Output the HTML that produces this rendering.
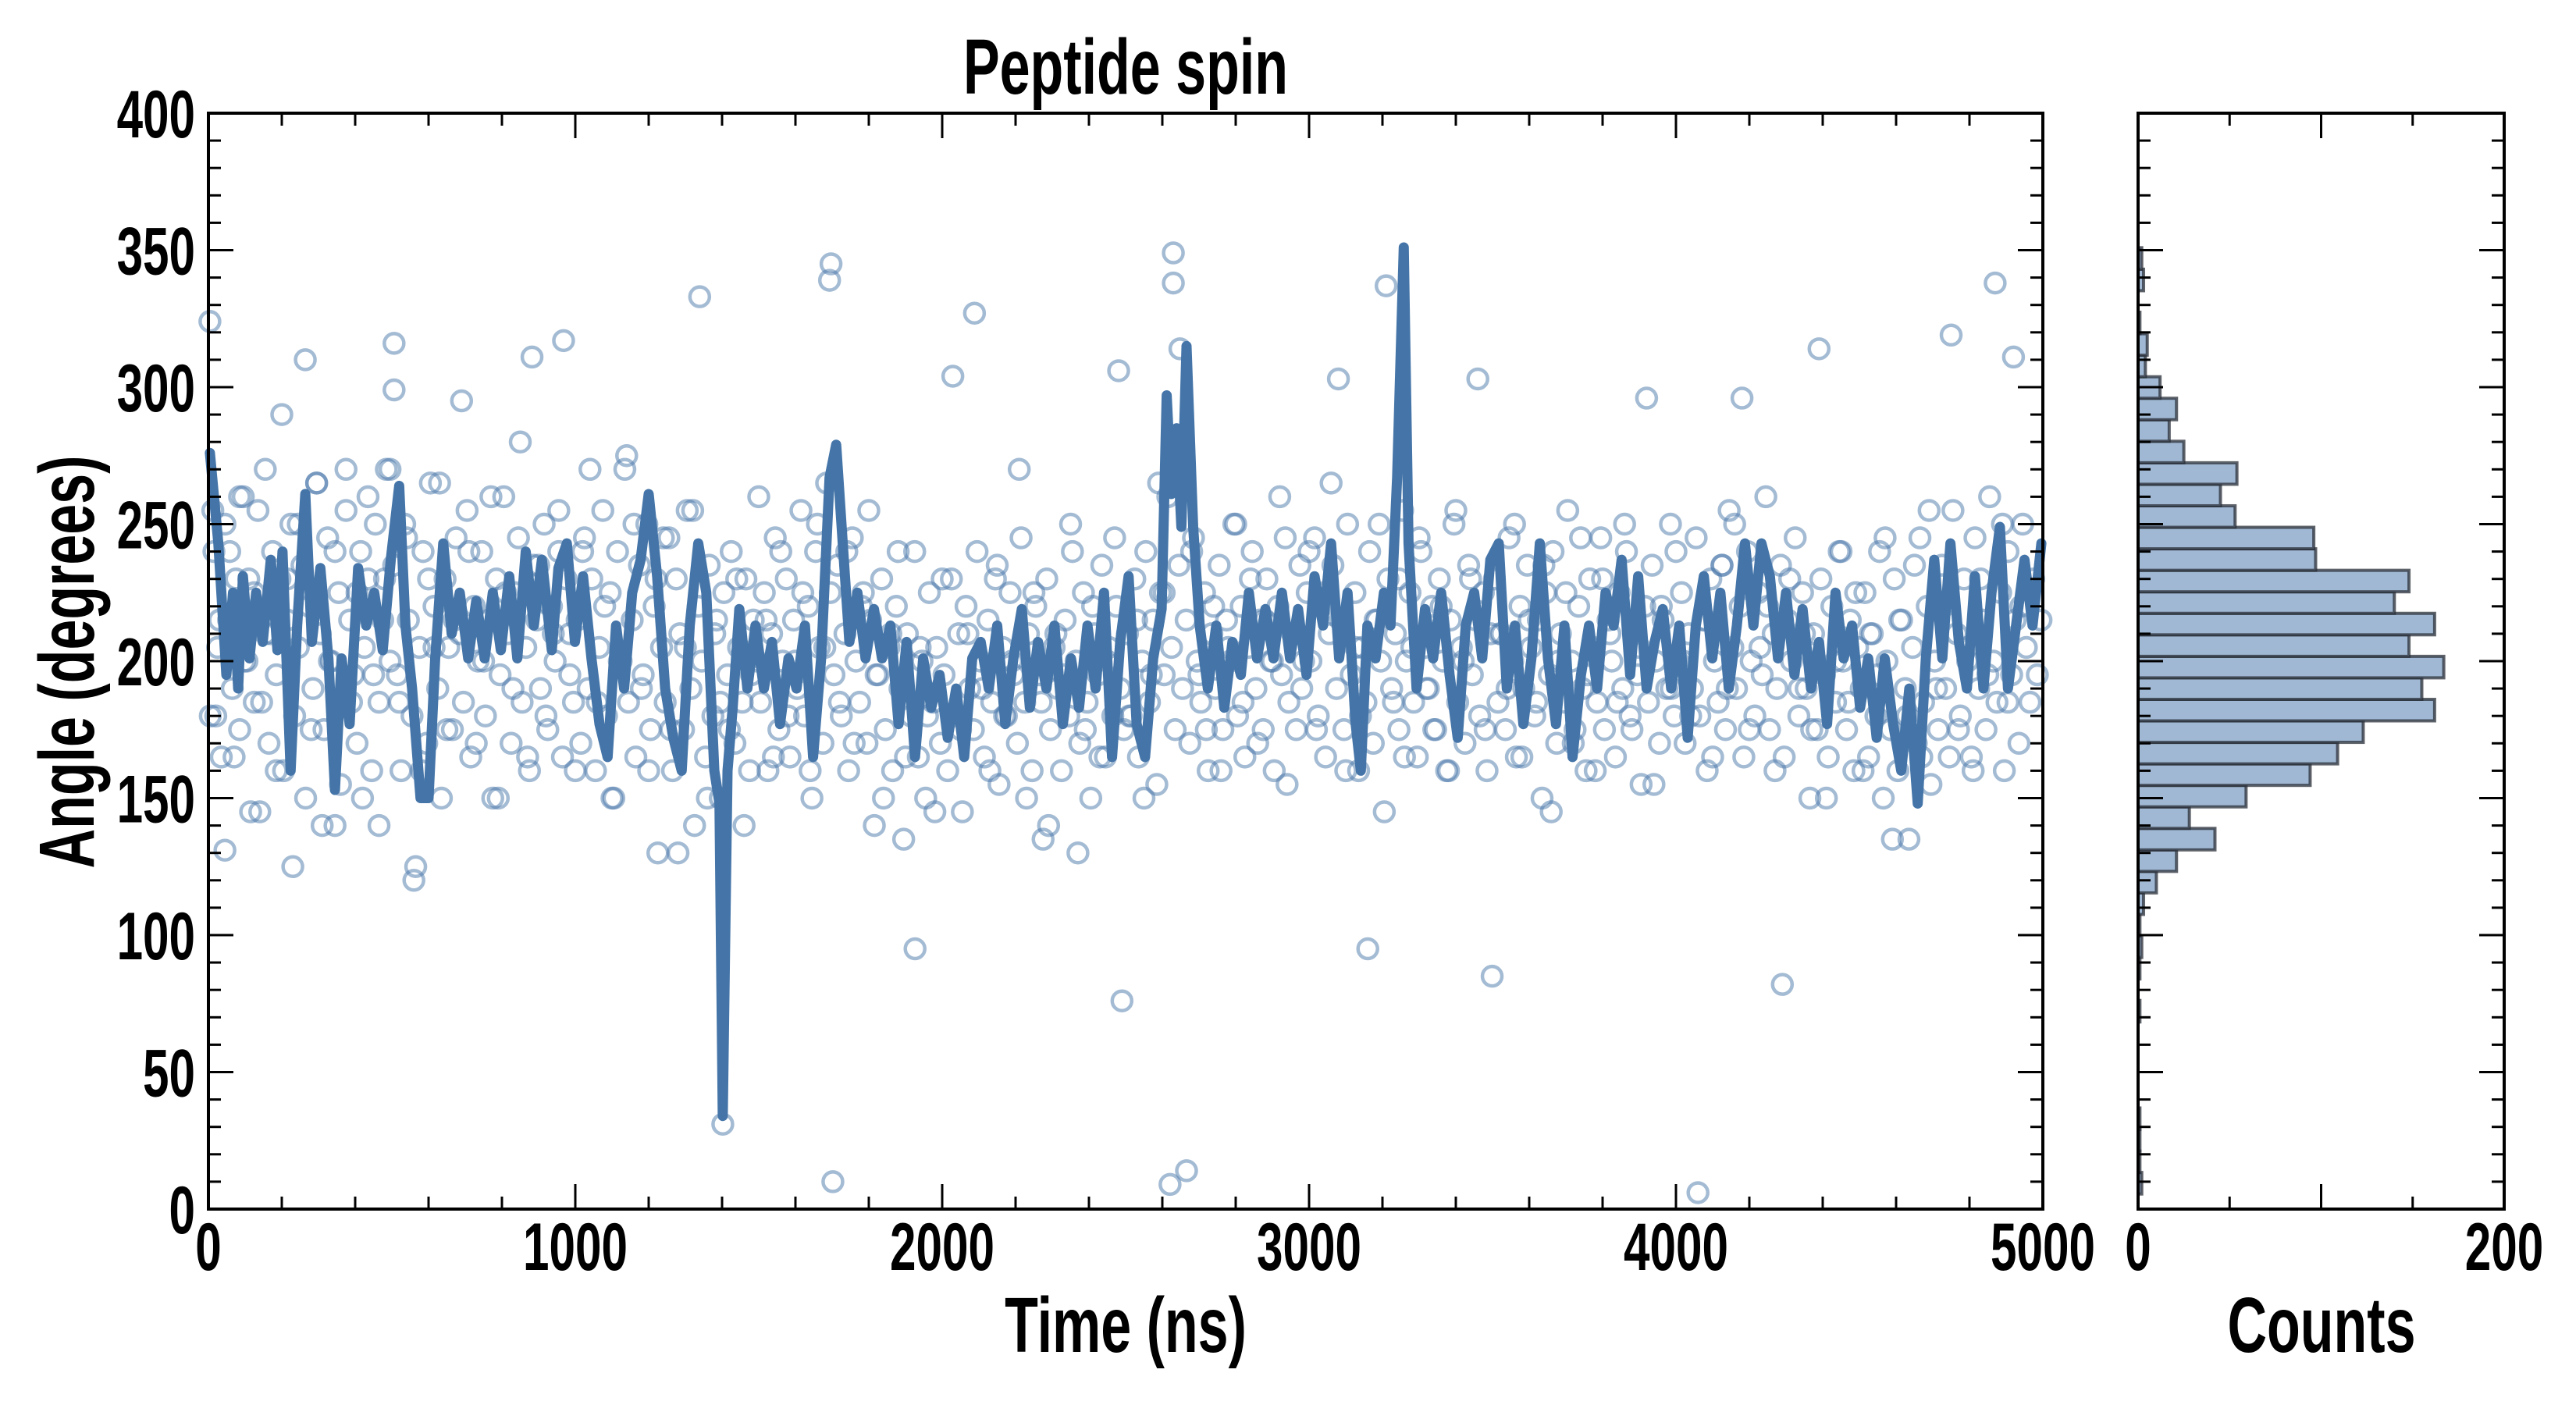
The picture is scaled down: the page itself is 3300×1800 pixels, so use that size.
<!DOCTYPE html>
<html><head><meta charset="utf-8"><style>
html,body{margin:0;padding:0;background:#fff;}
svg{display:block;}
text{font-family:"Liberation Sans Narrow","Liberation Sans",sans-serif;font-weight:bold;fill:#000;}
</style></head><body>
<svg id="chart" width="3300" height="1800" viewBox="0 0 3300 1800" xmlns="http://www.w3.org/2000/svg">
<g id="scatterLayer"></g>
<g id="lineLayer"></g>
<g id="histLayer"></g>
<g id="axesLayer"></g>
</svg>
<script>
// ---- data ----
const lineTimes=[4,27,49,67,81,94,112,130,148,170,188,202,224,242,264,282,305,327,345,363,385,408,430,452,475,497,520,537,555,578,600,618,640,663,685,708,730,753,775,797,820,842,865,887,909,936,954,977,999,1021,1044,1066,1088,1111,1133,1155,1178,1200,1223,1245,1267,1290,1312,1335,1357,1379,1393,1402,1415,1429,1447,1469,1491,1514,1536,1558,1581,1603,1626,1648,1670,1693,1711,1729,1747,1769,1791,1814,1836,1859,1881,1903,1926,1948,1970,1993,2015,2038,2060,2082,2105,2127,2150,2172,2194,2217,2239,2261,2284,2306,2329,2351,2373,2396,2418,2441,2463,2485,2508,2530,2553,2575,2598,2612,2625,2639,2652,2666,2684,2702,2724,2747,2769,2791,2814,2836,2858,2881,2903,2926,2948,2970,2993,3015,3038,3060,3082,3105,3127,3141,3159,3181,3204,3222,3240,3258,3271,3293,3316,3338,3360,3383,3405,3427,3450,3472,3494,3517,3539,3561,3584,3606,3629,3651,3673,3696,3718,3741,3763,3785,3808,3830,3852,3875,3897,3920,3942,3964,3987,4009,4032,4054,4076,4099,4121,4144,4166,4188,4211,4233,4256,4278,4300,4323,4345,4368,4390,4412,4435,4457,4480,4502,4524,4547,4569,4592,4614,4636,4659,4681,4704,4726,4748,4771,4793,4815,4838,4860,4883,4905,4927,4950,4972,4996];
const lineAngles=[276,243,195,225,190,231,201,225,207,237,204,240,160,213,261,207,234,201,153,201,177,234,213,225,204,237,264,213,190,150,150,201,243,210,225,201,222,201,225,204,231,201,240,213,237,204,234,243,207,231,201,177,165,213,190,225,237,261,231,190,172,160,213,243,225,160,148,34,160,183,219,190,213,190,207,177,201,190,213,165,201,267,279,243,207,225,201,219,201,213,177,207,165,201,183,195,172,190,165,201,207,190,213,177,201,219,183,207,190,213,177,201,183,213,190,225,165,207,231,177,165,201,219,297,261,285,249,315,249,213,190,213,183,207,195,225,201,219,201,225,201,219,195,231,213,243,201,225,177,160,213,201,225,213,267,351,243,190,219,201,225,195,172,213,225,201,237,243,190,213,177,201,243,201,177,213,165,195,213,190,225,213,237,195,231,190,207,219,190,213,172,213,231,201,225,190,213,243,213,243,231,201,225,195,219,190,207,177,225,201,213,183,201,172,201,177,160,190,148,201,237,201,243,207,190,231,190,225,249,190,213,237,213,243];
const pointTimes=[4,12,20,30,45,58,70,85,98,110,125,140,155,170,185,200,215,230,245,264,280,295,310,330,345,360,375,390,405,420,435,450,465,480,495,506,506,520,540,560,580,600,615,630,650,670,690,710,730,750,770,790,810,830,850,870,882,900,920,940,955,968,985,1000,1020,1040,1060,1080,1100,1120,1140,1160,1180,1200,1220,1240,1260,1280,1300,1320,1339,1360,1380,1395,1402,1420,1440,1460,1480,1500,1520,1540,1560,1580,1600,1620,1640,1660,1680,1693,1697,1702,1720,1740,1760,1780,1800,1820,1840,1860,1880,1900,1926,1940,1960,1980,2000,2029,2050,2070,2088,2110,2130,2150,2170,2190,2210,2230,2250,2270,2290,2310,2330,2350,2370,2390,2410,2430,2450,2470,2481,2490,2510,2530,2550,2570,2590,2605,2621,2630,2630,2648,2666,2680,2700,2720,2740,2760,2780,2800,2820,2840,2860,2880,2900,2920,2940,2960,2980,3000,3020,3040,3060,3080,3100,3127,3140,3160,3180,3191,3210,3230,3245,3260,3280,3300,3320,3340,3360,3380,3400,3420,3440,3460,3480,3499,3520,3540,3560,3580,3600,3620,3640,3660,3680,3700,3720,3740,3760,3780,3800,3820,3840,3860,3880,3900,3920,3940,3960,3987,4000,4020,4040,4060,4080,4100,4126,4140,4160,4180,4200,4229,4250,4270,4290,4310,4336,4350,4370,4390,4410,4435,4450,4470,4490,4510,4530,4550,4570,4590,4610,4630,4650,4670,4690,4710,4730,4750,4770,4793,4810,4830,4850,4870,4890,4905,4920,4940,4968,4985];
const pointAngles=[324,255,180,215,131,240,165,260,200,230,185,145,270,210,160,290,230,125,250,310,175,265,140,200,240,155,270,185,225,150,260,195,140,230,270,316,299,185,245,120,160,230,205,265,175,215,295,240,170,200,260,150,225,190,280,165,311,235,180,210,255,317,195,160,240,270,185,220,150,200,275,250,190,160,230,245,175,130,205,255,333,150,210,185,31,175,230,140,195,260,215,165,240,180,200,225,160,250,205,339,345,10,185,240,170,220,255,195,150,210,240,165,95,205,180,145,230,304,175,210,327,190,160,235,180,200,270,150,225,185,140,210,195,250,130,175,220,165,200,245,306,76,180,215,150,195,265,225,9,349,338,314,14,240,195,175,220,160,205,250,185,230,170,215,200,260,155,210,190,240,175,225,265,303,160,205,180,95,215,250,337,185,230,165,205,245,190,175,220,160,255,200,230,303,175,85,210,190,250,165,215,185,235,145,200,225,170,245,195,160,230,210,185,250,175,205,296,155,220,190,240,200,180,6,215,165,235,190,250,296,175,205,220,160,82,230,190,210,175,314,150,200,240,185,225,160,210,195,245,135,215,180,235,165,255,190,220,319,175,205,160,230,195,338,250,185,311,220];
// dense samples, one every 10 ns starting at 5 ns
const denseStart=5, denseStep=10;
const denseAngles=[180,240,205,165,250,215,190,230,175,260,200,145,225,255,185,210,170,240,195,230,160,215,250,180,205,235,150,220,190,265,210,175,245,200,140,225,185,255,215,195,170,240,205,230,160,250,185,215,270,200,
235,195,160,250,215,180,125,205,240,170,265,220,190,150,230,205,175,245,210,185,255,165,220,200,240,180,215,150,230,195,260,210,170,225,245,185,205,160,235,215,190,250,175,220,200,240,165,230,210,185,
215,170,245,190,230,160,205,255,180,225,150,240,200,270,185,215,165,235,195,250,175,220,130,205,185,245,160,230,210,175,255,190,140,220,200,165,235,180,215,150,225,195,240,170,205,185,230,160,215,200,
185,225,160,210,245,175,200,230,165,215,190,255,180,220,150,240,205,170,265,225,195,235,180,210,160,245,200,185,225,170,215,140,195,230,175,205,160,220,190,135,210,180,240,165,200,150,225,185,205,170,
195,160,230,180,210,145,220,190,175,240,200,165,215,185,230,155,205,180,225,195,170,245,185,210,160,220,195,135,230,175,205,190,160,215,180,240,200,170,225,185,150,210,195,235,165,205,180,220,190,175,
210,180,230,165,200,240,185,215,155,225,195,260,205,175,235,190,215,170,245,200,185,225,160,210,190,235,175,215,200,250,180,220,165,205,240,190,215,175,230,200,160,220,195,245,185,210,175,235,200,225,
200,245,180,220,165,210,235,190,215,175,250,195,225,160,205,185,240,170,215,200,145,230,190,210,175,255,200,225,185,165,240,205,190,220,175,230,200,160,215,250,185,205,170,235,195,215,180,225,160,210,
230,185,210,175,245,200,165,220,190,235,205,180,215,150,225,195,240,170,210,185,255,200,175,220,190,160,230,205,185,245,175,215,200,165,225,190,240,180,210,195,155,220,185,235,200,170,215,190,250,180,
200,225,170,210,190,245,180,215,160,230,200,185,235,175,255,205,190,220,165,240,200,180,225,195,260,175,210,190,235,165,215,200,245,180,225,190,150,210,175,230,195,165,220,185,240,200,175,215,160,205,
190,225,165,210,180,240,150,200,175,230,160,215,190,135,205,170,245,185,220,155,200,175,235,190,165,255,210,180,230,200,165,245,190,215,175,260,200,185,225,160,240,195,215,170,250,205,185,230,195,215];
const binCounts=[2,1,1,1,0,0,0,0,1,0,1,2,1,3,10,21,42,28,59,94,109,123,162,155,167,148,162,140,148,97,96,53,45,54,25,17,21,12,4,5,1,0,3,2];
const binStart=5.5, binWidth=7.85;
const xTickLabels=["0","1000","2000","3000","4000","5000"];
const yTickLabels=["0","50","100","150","200","250","300","350","400"];
const hTickLabels=["0","200"];

// ---- geometry ----
const PX0=267,PX1=2617,PY0=145,PY1=1549,HX0=2739,HX1=3208;
const xs=t=>PX0+(t/5000)*(PX1-PX0);
const ys=a=>PY1-(a/400)*(PY1-PY0);
const hx=c=>HX0+(c/200)*(HX1-HX0);
const NS="http://www.w3.org/2000/svg";
const SX=0.7;
function mk(tag,parent,attrs){const e=document.createElementNS(NS,tag);for(const k in attrs)e.setAttribute(k,attrs[k]);parent.appendChild(e);return e;}
function txt(parent,x,y,s,size,anchor,sx,rot){
  const g=mk('g',parent,{transform:`translate(${x},${y})`+(rot?` rotate(${rot})`:'')+` scale(${sx},1)`});
  const t=mk('text',g,{x:0,y:0,'font-size':size,'text-anchor':anchor});
  t.textContent=s;return t;}

const sc=document.getElementById('scatterLayer');
function pt(t,a){
  const c=mk('circle',sc,{cx:xs(t),cy:ys(a),r:12.5,fill:'none',stroke:'rgba(74,120,170,0.5)','stroke-width':4.5});
  
  
}
const nP=Math.min(pointTimes.length,pointAngles.length);
for(let i=0;i<nP;i++)pt(pointTimes[i],pointAngles[i]);
for(let i=0;i<denseAngles.length;i++)pt(denseStart+i*denseStep,denseAngles[i]);

const ll=document.getElementById('lineLayer');
let d='';
for(let i=0;i<lineTimes.length;i++)d+=(i?'L':'M')+xs(lineTimes[i]).toFixed(1)+','+ys(lineAngles[i]).toFixed(1);
const pl=mk('path',ll,{d:d,fill:'none',stroke:'#4575a8','stroke-width':13,'stroke-linejoin':'round','stroke-linecap':'round'});



const hl=document.getElementById('histLayer');
for(let k=0;k<binCounts.length;k++){
  if(!binCounts[k])continue;
  const y1=ys(binStart+k*binWidth),y0=ys(binStart+(k+1)*binWidth);
  const r=mk('rect',hl,{x:HX0,y:y0,width:hx(binCounts[k])-HX0,height:y1-y0,fill:'#a0b8d3',stroke:'rgba(40,45,55,0.75)','stroke-width':4});
  
  
}

const ax=document.getElementById('axesLayer');
function frame(x0,x1,name){const r=mk('rect',ax,{x:x0,y:PY0,width:x1-x0,height:PY1-PY0,fill:'none',stroke:'#000','stroke-width':4});
  
  }
frame(PX0,PX1,'main-plot-frame');frame(HX0,HX1,'histogram-frame');
function tk(x1,y1,x2,y2){mk('line',ax,{x1,y1,x2,y2,stroke:'#000','stroke-width':3});}
for(let a=0;a<=400;a+=10){const y=ys(a),L=(a%50===0)?32:16;
  for(const [l,r] of [[PX0,PX1],[HX0,HX1]]){tk(l,y,l+L,y);tk(r,y,r-L,y);}}
for(let t=0;t<=5000;t+=200){const x=xs(t),L=(t%1000===0)?32:16;tk(x,PY1,x,PY1-L);tk(x,PY0,x,PY0+L);}
for(let c=0;c<=200;c+=50){const x=hx(c),L=(c%100===0)?32:16;tk(x,PY1,x,PY1-L);tk(x,PY0,x,PY0+L);}
yTickLabels.forEach((s,i)=>{const t=txt(ax,250,ys(i*50)+31,s,86,'end',SX);});
xTickLabels.forEach((s,i)=>{const t=txt(ax,xs(i*1000),1627,s,86,'middle',SX);});
hTickLabels.forEach((s,i)=>{const t=txt(ax,hx(i*200),1627,s,86,'middle',SX);});
let t1=txt(ax,1442,120,'Peptide spin',100,'middle',SX);

let t2=txt(ax,1442,1732,'Time (ns)',100,'middle',SX);

let t3=txt(ax,2974,1732,'Counts',100,'middle',SX);

let t4=txt(ax,120,848,'Angle (degrees)',100,'middle',SX,-90);

</script>
</body></html>
